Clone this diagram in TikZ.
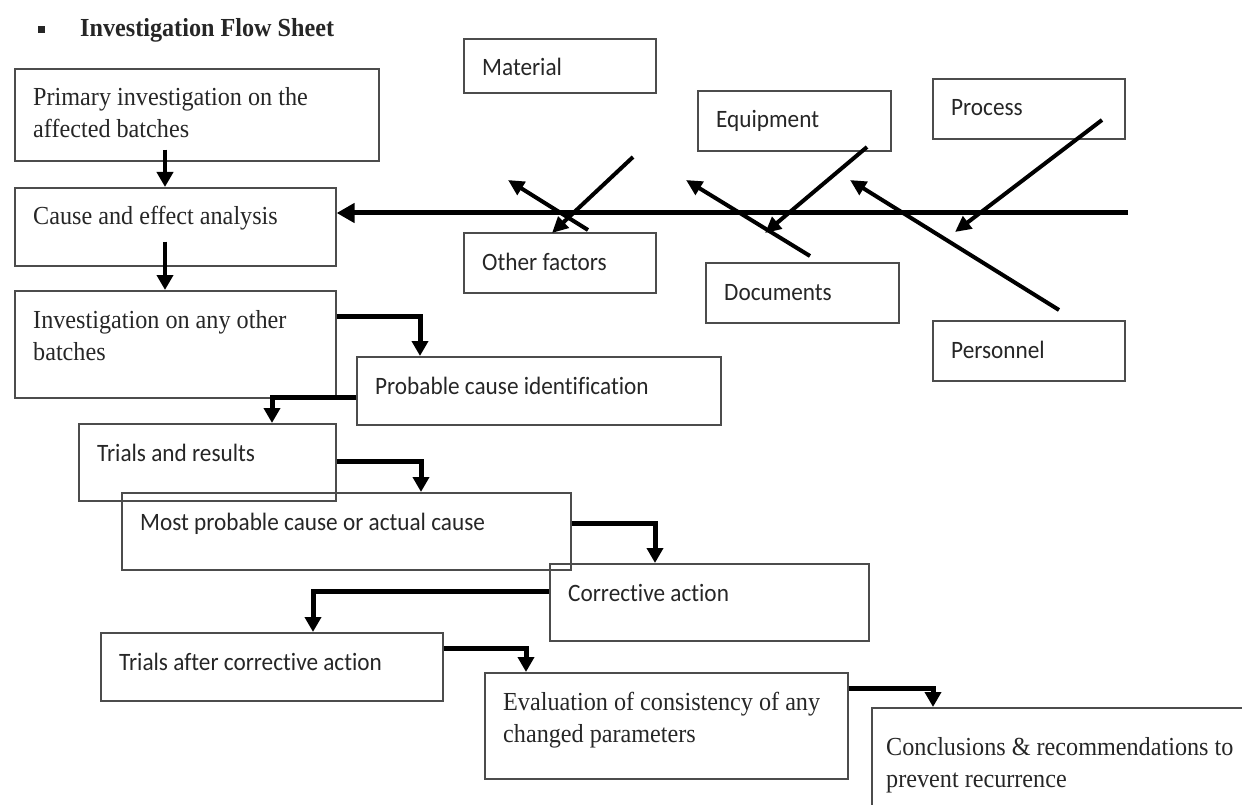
\documentclass[tikz,border=0pt]{standalone}
\usepackage{fontspec}
\setmainfont{Liberation Serif}[FakeStretch=0.93]
\newfontfamily\bodysans{Carlito}[FakeStretch=0.93, Ligatures=NoCommon]
\usetikzlibrary{arrows.meta}

\begin{document}
\begin{tikzpicture}[
x=1pt, y=-1pt,
box/.style={draw=black!70, line width=1.6pt, anchor=north west, inner sep=0pt},
txt/.style={anchor=base west, inner sep=0pt, align=left, text=black!85, font=\fontsize{26}{32}\selectfont, xshift=19pt, yshift=-38pt},
twoline/.style={txt, yshift=-32pt},
sans/.style={txt, font=\fontsize{25}{30}\selectfont\bodysans},
flow/.style={line width=5pt, line join=miter, -{Triangle[length=15pt,width=16pt]}},
bone/.style={line width=4pt, -{Triangle[length=16pt,width=15pt]}},
spine/.style={line width=5pt, -{Triangle[length=18pt,width=19pt]}}
]
\useasboundingbox (0,0) rectangle (1242,805);
\clip (0,0) rectangle (1242,805);

% title
\node[fill=black!85, minimum size=7pt, inner sep=0pt] (bullet) at (41,30) {};
\node[anchor=base west, inner sep=0pt, text=black!85, font=\fontsize{26}{32}\selectfont\bfseries] (title) at (80,37) {Investigation Flow Sheet};

% flow sheet boxes
\node[box, minimum width=364, minimum height=92, label={[twoline]north west:Primary investigation on the\\affected batches}] (primary) at (14,68) {};
\node[box, minimum width=321, minimum height=78, label={[txt]north west:Cause and effect analysis}] (cause) at (14,187) {};
\node[box, minimum width=321, minimum height=107, label={[twoline]north west:Investigation on any other\\batches}] (otherbatch) at (14,290) {};
\node[box, minimum width=364, minimum height=68, label={[sans]north west:Probable cause identification}] (probable) at (356,356) {};
\node[box, minimum width=257, minimum height=77, label={[sans]north west:Trials and results}] (trials) at (78,423) {};
\node[box, minimum width=449, minimum height=77, label={[sans]north west:Most probable cause or actual cause}] (mostprob) at (121,492) {};
\node[box, minimum width=319, minimum height=77, label={[sans]north west:Corrective action}] (corrective) at (549,563) {};
\node[box, minimum width=342, minimum height=68, label={[sans]north west:Trials after corrective action}] (trialsafter) at (100,632) {};
\node[box, minimum width=363, minimum height=106, label={[twoline]north west:Evaluation of consistency of any\\changed parameters}] (evaluation) at (484,672) {};
\node[box, minimum width=400, minimum height=130, label={[twoline, xshift=-4pt, yshift=-10pt]north west:Conclusions \& recommendations to\\prevent recurrence}] (conclusions) at (871,707) {};

% fishbone boxes
\node[box, minimum width=192, minimum height=54, label={[sans]north west:Material}] (material) at (463,38) {};
\node[box, minimum width=193, minimum height=60, label={[sans]north west:Equipment}] (equipment) at (697,90) {};
\node[box, minimum width=192, minimum height=60, label={[sans]north west:Process}] (process) at (932,78) {};
\node[box, minimum width=192, minimum height=60, label={[sans]north west:Other factors}] (otherfactors) at (463,232) {};
\node[box, minimum width=193, minimum height=60, label={[sans]north west:Documents}] (documents) at (705,262) {};
\node[box, minimum width=192, minimum height=60, label={[sans]north west:Personnel}] (personnel) at (932,320) {};

% fishbone
\coordinate (tail) at (1128,213);
\draw[spine] (tail) -- (cause.east |- tail);
\coordinate (matA) at (633,157); \coordinate (matB) at (552,233);
\coordinate (othA) at (588,230); \coordinate (othB) at (508,180);
\coordinate (equA) at (867,147); \coordinate (equB) at (765,233);
\coordinate (docA) at (810,256); \coordinate (docB) at (686,180);
\coordinate (proA) at (1102,120); \coordinate (proB) at (955,232);
\coordinate (perA) at (1059,310); \coordinate (perB) at (850,180);
\draw[bone] (matA) -- (matB);
\draw[bone] (othA) -- (othB);
\draw[bone] (equA) -- (equB);
\draw[bone] (docA) -- (docB);
\draw[bone] (proA) -- (proB);
\draw[bone] (perA) -- (perB);

% flow arrows
\draw[flow, line width=4pt] ([xshift=151pt,yshift=12pt]primary.south west) -- ([xshift=151pt]cause.north west);
\draw[flow, line width=4pt] ([xshift=151pt,yshift=25pt]cause.south west) -- ([xshift=151pt]otherbatch.north west);
\draw[flow] ([yshift=-26pt]otherbatch.north east) -| ([xshift=64pt]probable.north west);
\draw[flow] ([yshift=-41pt]probable.north west) -| ([xshift=194pt]trials.north west);
\draw[flow] ([yshift=-38pt]trials.north east) -| ([xshift=300pt]mostprob.north west);
\draw[flow] ([yshift=-31pt]mostprob.north east) -| ([xshift=106pt]corrective.north west);
\draw[flow] ([yshift=-28pt]corrective.north west) -| ([xshift=213pt]trialsafter.north west);
\draw[flow] ([yshift=-16pt]trialsafter.north east) -| ([xshift=42pt]evaluation.north west);
\draw[flow] ([yshift=-16pt]evaluation.north east) -| ([xshift=62pt]conclusions.north west);

\end{tikzpicture}
\end{document}
